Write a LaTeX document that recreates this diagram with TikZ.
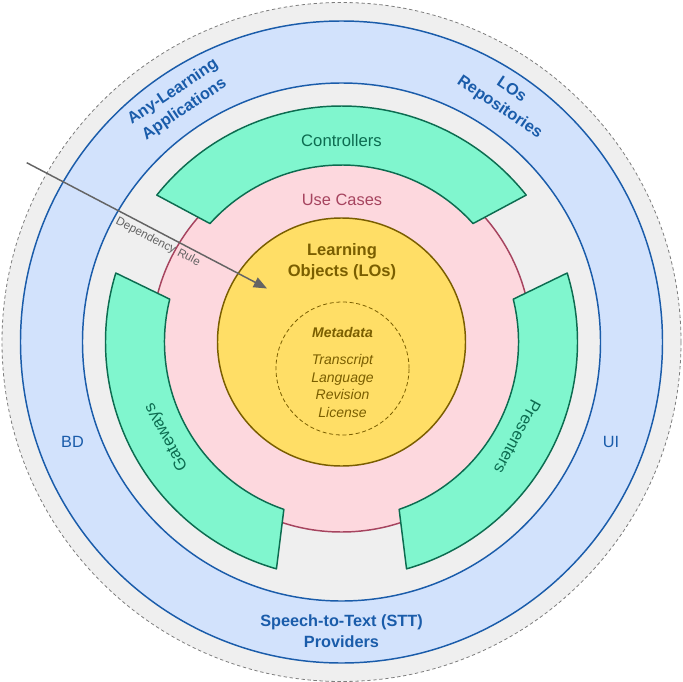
\documentclass[tikz,border=0pt]{standalone}
\usepackage{fontspec}
\setmainfont{Liberation Sans}
\usetikzlibrary{arrows.meta}

\definecolor{shellgray}{RGB}{239,239,239}
\definecolor{dashgray}{RGB}{125,125,125}
\definecolor{frameblue}{RGB}{210,226,252}
\definecolor{lineblue}{RGB}{26,92,170}
\definecolor{casepink}{RGB}{253,216,222}
\definecolor{caseline}{RGB}{166,68,95}
\definecolor{adaptergreen}{RGB}{128,246,206}
\definecolor{adapterline}{RGB}{12,108,80}
\definecolor{entityyellow}{RGB}{255,222,102}
\definecolor{entityline}{RGB}{122,94,0}
\definecolor{rulegray}{RGB}{100,100,100}

\begin{document}
\begin{tikzpicture}[x=0.75pt,y=0.75pt,yscale=-1,xscale=1,
  adapter/.style={draw=adapterline,fill=adaptergreen,line width=1.1pt,line join=round},
  bandlabel/.style={font=\fontsize{12.5}{15}\selectfont,text=adapterline,inner sep=0.75pt},
  bluelabel/.style={font=\fontsize{12.2}{15.5}\selectfont\bfseries,text=lineblue,align=center,inner sep=0.75pt},
  metalabel/.style={font=\fontsize{10.5}{13.1}\selectfont\itshape,text=entityline,align=center,inner sep=0.75pt}]
\useasboundingbox (0,0) rectangle (683,682);

\begin{scope}[shift={(341.5,342)},yscale=-1]
%Shape: Circle
\draw [draw=dashgray,fill=shellgray,line width=0.6pt,dash pattern=on 2.5pt off 2pt] (0,0) circle [radius=339.5];
%Shape: Circle
\draw [draw=lineblue,fill=frameblue,line width=1.1pt] (0,0) circle [radius=321];
%Shape: Circle
\draw [draw=lineblue,fill=shellgray,line width=1.1pt] (0,0) circle [radius=259];
%Shape: Circle
\draw [draw=caseline,fill=casepink,line width=1.1pt] (0,0) circle [radius=190];
%Shape: Arc band
\draw [adapter] (38.5:236) arc [start angle=38.5,end angle=141.5,radius=236] -- (138:177) arc [start angle=138,end angle=42,radius=177] -- cycle;
%Shape: Arc band
\draw [adapter] (163:236) arc [start angle=163,end angle=254,radius=236] -- (251:177) arc [start angle=251,end angle=166,radius=177] -- cycle;
%Shape: Arc band
\draw [adapter] (-74:236) arc [start angle=-74,end angle=17,radius=236] -- (14:177) arc [start angle=14,end angle=-71,radius=177] -- cycle;
%Shape: Circle
\draw [draw=entityline,fill=entityyellow,line width=1.1pt] (0,0) circle [radius=124];
%Shape: Circle
\draw [draw=entityline,line width=0.6pt,dash pattern=on 3pt off 2pt] (1,-26.5) circle [radius=66.5];

% Text Node
\node [bandlabel] (controllers) at (90:201) {Controllers};
% Text Node
\node [bandlabel,rotate=118.5] (gateways) at (208.5:199) {Gateways};
% Text Node
\node [bandlabel,rotate=-118.4] (presenters) at (-28.4:200) {Presenters};
% Text Node
\node [font=\fontsize{12.3}{15}\selectfont,text=caseline,inner sep=0.75pt] (usecases) at (0.5,142) {Use Cases};
% Text Node
\node [font=\fontsize{12.4}{15.5}\selectfont\bfseries,text=entityline,align=center,inner sep=0.75pt] (entities) at (0.5,80) {Learning\\Objects (LOs)};
% Text Node
\node [metalabel,font=\fontsize{10.5}{13.1}\selectfont\bfseries\itshape] (metatitle) at (1,10) {Metadata};
% Text Node
\node [metalabel] (metafields) at (1,-44) {Transcript\\Language\\Revision\\License};
% Text Node
\node [bluelabel,rotate=34] (apps) at (124:291) {Any-Learning\\Applications};
% Text Node
\node [bluelabel,rotate=-34] (repos) at (56:293) {LOs\\Repositories};
% Text Node
\node [bluelabel] (stt) at (0,-289) {Speech-to-Text (STT)\\Providers};
% Text Node
\node [font=\fontsize{12.2}{15}\selectfont,text=lineblue] (bd) at (-269,-100) {BD};
% Text Node
\node [font=\fontsize{12.2}{15}\selectfont,text=lineblue] (ui) at (269.5,-100) {UI};
\end{scope}

%Straight Lines
\coordinate (rulestart) at (26.7,162.7);
\coordinate (ruleend) at (267,288.5);
\draw [draw=rulegray,line width=1.1pt,-{Triangle[length=10pt,width=8pt]}] (rulestart) -- (ruleend);
% Text Node
\node [rotate=-27.4,font=\fontsize{8.8}{10}\selectfont,text=rulegray,inner sep=0.75pt] (rulelabel) at (158,242) {Dependency Rule};

\end{tikzpicture}
\end{document}
